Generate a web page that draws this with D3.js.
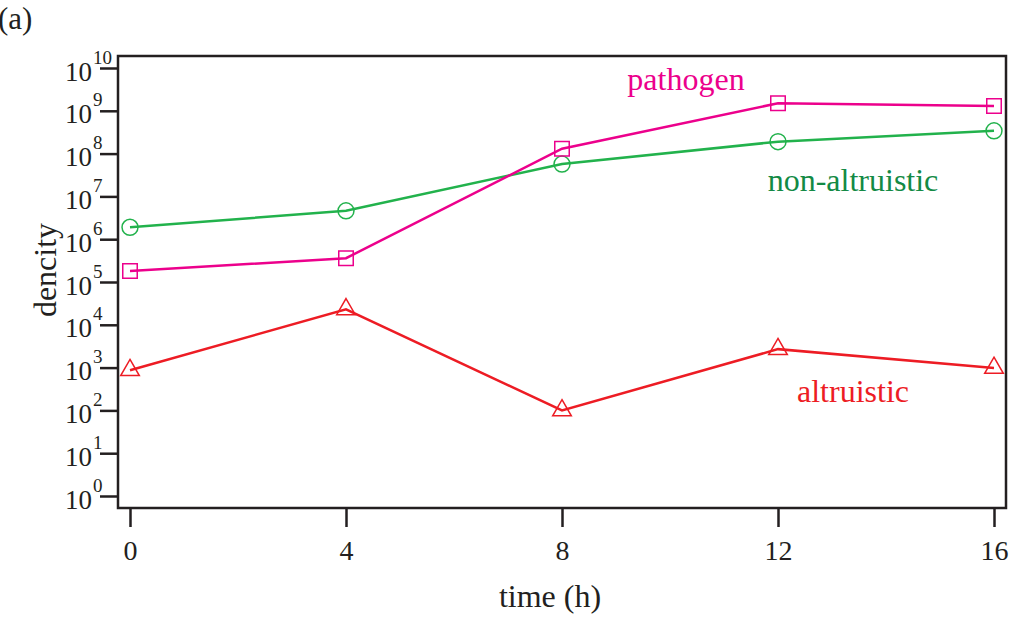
<!DOCTYPE html>
<html>
<head>
<meta charset="utf-8">
<script src="https://cdn.jsdelivr.net/npm/d3@7"></script>
<style>
  body { margin: 0; background: #fff; }
  text { font-family: "Liberation Serif", "Times New Roman", serif; }
</style>
</head>
<body>
<svg id="chart" width="1014" height="620"></svg>
<script>
// time points (h) and densities
var times = [0, 4, 8, 12, 16];
var xTicks = [0, 4, 8, 12, 16];
var yExponents = [0, 1, 2, 3, 4, 5, 6, 7, 8, 9, 10];
var pathogen = [1.8e5, 3.6e5, 1.3e8, 1.5e9, 1.3e9];
var nonAltruistic = [1.9e6, 4.6e6, 5.7e7, 1.9e8, 3.4e8];
var altruistic = [870, 2.3e4, 100, 2.7e3, 980];

var svg = d3.select('#chart');
var box = { left: 118, top: 56, right: 1006, bottom: 508 };

var x = d3.scaleLinear().domain([0, 16]).range([130, 994]);
var y = d3.scaleLog().domain([1, 1e10]).range([496, 68]);

// frame
svg.append('rect').attr('x', box.left).attr('y', box.top)
  .attr('width', box.right - box.left).attr('height', box.bottom - box.top)
  .attr('fill', 'none').attr('stroke', '#231f20').attr('stroke-width', 2.5);

// y axis ticks + labels (10^n)
var yAxis = d3.axisLeft(y).tickValues(yExponents.map(function(e) { return Math.pow(10, e); }))
  .tickSize(18).tickFormat('');
var gy = svg.append('g').attr('transform', 'translate(' + box.left + ',0)').call(yAxis);
gy.select('.domain').remove();
gy.selectAll('.tick line').attr('stroke', '#231f20').attr('stroke-width', 2.5);
gy.selectAll('.tick').each(function(d) {
  var e = Math.round(Math.log10(d));
  var g = d3.select(this);
  g.append('text').attr('fill', '#231f20').attr('text-anchor', 'end')
    .attr('x', -26).attr('y', 12).style('font-size', '27px').text('10');
  g.append('text').attr('fill', '#231f20').attr('text-anchor', 'start')
    .attr('x', -25).attr('y', -5).style('font-size', '19px').text(e);
});

// x axis
var xAxis = d3.axisBottom(x).tickValues(xTicks).tickSize(19).tickFormat('');
var gx = svg.append('g').attr('transform', 'translate(0,' + box.bottom + ')').call(xAxis);
gx.select('.domain').remove();
gx.selectAll('.tick line').attr('stroke', '#231f20').attr('stroke-width', 2.5);
gx.selectAll('.tick').append('text').attr('fill', '#231f20').attr('text-anchor', 'middle')
  .attr('y', 52).style('font-size', '28px').text(function(d) { return d; });

// axis titles
svg.append('text').attr('x', 550).attr('y', 607).attr('text-anchor', 'middle')
  .style('font-size', '32px').attr('fill', '#231f20').text('time (h)');
svg.append('text').attr('transform', 'translate(56,270) rotate(-90)').attr('text-anchor', 'middle')
  .style('font-size', '32px').attr('fill', '#231f20').text('dencity');
svg.append('text').attr('x', -2).attr('y', 29).style('font-size', '31px')
  .attr('fill', '#231f20').text('(a)');

var line = d3.line().x(function(d) { return x(d[0]); }).y(function(d) { return y(d[1]); });
function pairs(vals) { return times.map(function(t, i) { return [t, vals[i]]; }); }

var series = [
  { vals: nonAltruistic, color: '#22b24c', shape: d3.symbolCircle, size: 200 },
  { vals: pathogen, color: '#ec008c', shape: d3.symbolSquare, size: 210 },
  { vals: altruistic, color: '#ed1c24', shape: d3.symbolTriangle, size: 150 }
];

series.forEach(function(s) {
  svg.append('path').datum(pairs(s.vals)).attr('d', line)
    .attr('fill', 'none').attr('stroke', s.color).attr('stroke-width', 2.5);
  svg.selectAll(null).data(pairs(s.vals)).enter().append('path')
    .attr('d', d3.symbol().type(s.shape).size(s.size))
    .attr('transform', function(d) { return 'translate(' + x(d[0]) + ',' + y(d[1]) + ')'; })
    .attr('fill', 'none').attr('stroke', s.color).attr('stroke-width', 1.5);
});

// series labels
svg.append('text').attr('x', 686).attr('y', 90).attr('text-anchor', 'middle')
  .style('font-size', '32px').attr('fill', '#ec008c').text('pathogen');
svg.append('text').attr('x', 853).attr('y', 191).attr('text-anchor', 'middle')
  .style('font-size', '32px').attr('fill', '#138a45').text('non-altruistic');
svg.append('text').attr('x', 853).attr('y', 402).attr('text-anchor', 'middle')
  .style('font-size', '32px').attr('fill', '#ed1c24').text('altruistic');
</script>
</body>
</html>
